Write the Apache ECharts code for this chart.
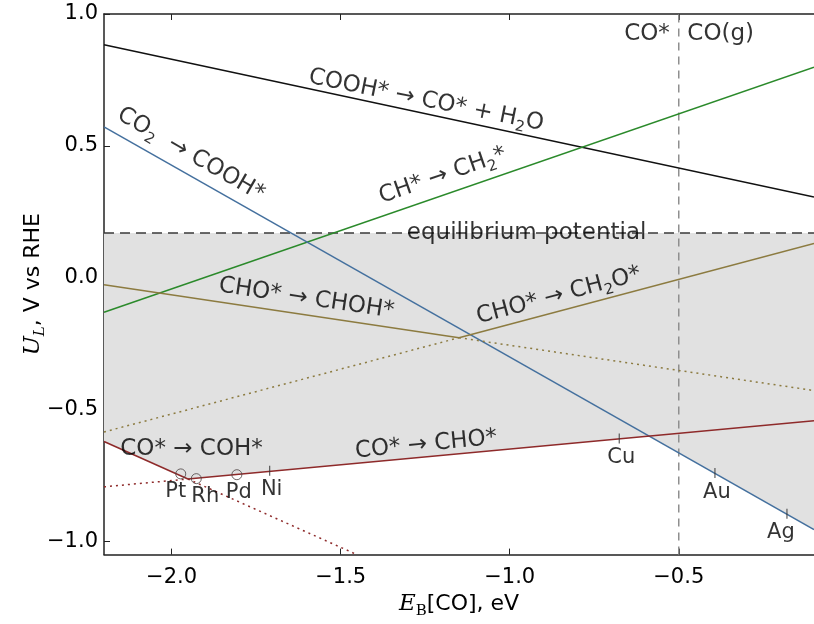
<!DOCTYPE html>
<html><head><meta charset="utf-8">
<script src="https://cdn.jsdelivr.net/npm/echarts@6/dist/echarts.min.js"></script>
<style>html,body{margin:0;padding:0;background:#fff}#c{width:814px;height:624px}</style>
</head><body><div id="c"></div>
<script>
// ---- data ----
const xEnds = [-2.2, -0.1];                 // x at which the straight lines are sampled
const yCoohToCo = [0.883, 0.306];           // COOH* -> CO* + H2O
const yChToCh2 = [-0.131, 0.798];           // CH* -> CH2*
const yCo2ToCooh = [0.572, -0.955];         // CO2 -> COOH*
const yChoToChoh = [-0.027, -0.428];        // CHO* -> CHOH*
const yChoToCh2o = [-0.585, 0.130];         // CHO* -> CH2O*
const yCoToCho = [-0.793, -0.542];          // CO* -> CHO*
const xCoToCoh = [-2.2, -1.452];            // CO* -> COH*
const yCoToCoh = [-0.621, -1.05];
const equilibriumU = 0.17;
const coDesorbX = -0.5;
const xTicks = [-2.0, -1.5, -1.0, -0.5];
const yTicks = [-1.0, -0.5, 0.0, 0.5, 1.0];
const metalNames = ['Pt', 'Rh', 'Pd', 'Ni', 'Cu', 'Au', 'Ag'];
const metalX = [-1.973, -1.927, -1.807, -1.710, -0.676, -0.393, -0.180];
const metalY = [-0.744, -0.762, -0.747, -0.732, -0.610, -0.741, -0.895];
const metalMark = ['circle', 'circle', 'circle', 'tick', 'tick', 'tick', 'tick'];

// ---- helpers ----
function cross(ax, ay, bx, by) {
  const ma = (ay[1] - ay[0]) / (ax[1] - ax[0]);
  const mb = (by[1] - by[0]) / (bx[1] - bx[0]);
  const ca = ay[0] - ma * ax[0], cb = by[0] - mb * bx[0];
  const x = (cb - ca) / (ma - mb);
  return [x, ma * x + ca];
}
const pChoCross = cross(xEnds, yChoToChoh, xEnds, yChoToCh2o);
const pCoKink = cross(xCoToCoh, yCoToCoh, xEnds, yCoToCho);
const pBlueRed = cross(xEnds, yCo2ToCooh, xEnds, yCoToCho);

const C = {black: '#111111', green: '#2b8a2b', blue: '#44709e', olive: '#8c7b40', red: '#8e2a2a'};
function seg(pts, color, type, z) {
  return {type: 'line', data: pts, symbol: 'none', silent: true, animation: false, z: z || 3,
    lineStyle: {color: color, width: 1.5, type: type || 'solid', cap: 'butt'}};
}
const dots = [2, 4];

const fmt = v => (v < 0 ? '\u2212' : '') + Math.abs(v).toFixed(1);
const FS = 23;
const TXT = '#000';
const rich = {
  n: {fontSize: FS, fontFamily: 'DejaVu Sans', color: TXT, lineHeight: 30},
  s: {fontSize: 15, fontFamily: 'DejaVu Sans', color: TXT, lineHeight: 15, verticalAlign: 'bottom'}
};

const annotations = [
  {t: '{n|COOH* \u2192 CO* + H}{s|2}{n|O}', p: [-1.247, 0.672], r: -11.5},
  {t: '{n|CO}{s|2}{n|  \u2192 COOH*}', p: [-1.943, 0.467], r: -30},
  {t: '{n|CH* \u2192 CH}{s|2}{n|*}', p: [-1.198, 0.387], r: 19},
  {t: '{n|equilibrium potential}', p: [-0.950, 0.169], r: 0},
  {t: '{n|CHO* \u2192 CHOH*}', p: [-1.601, -0.079], r: -8.5},
  {t: '{n|CHO* \u2192 CH}{s|2}{n|O*}', p: [-0.855, -0.068], r: 15},
  {t: '{n|CO* \u2192 COH*}', p: [-1.941, -0.648], r: 0},
  {t: '{n|CO* \u2192 CHO*}', p: [-1.247, -0.633], r: 5.5},
  {t: '{n|CO*}', p: [-0.594, 0.923], r: 0},
  {t: '{n|CO(g)}', p: [-0.376, 0.923], r: 0}
];
const metalOffsets = [[-5, 18], [9, 18], [2, 18], [2, 19], [2, 19], [2, 19], [-6, 19]];

const chart = echarts.init(document.getElementById('c'), null, {renderer: 'canvas'});
const axisColor = '#222';
chart.setOption({
  animation: false,
  grid: {left: 104, top: 14, right: -7, bottom: 55, containLabel: false},
  xAxis: [{
    type: 'value', min: xEnds[0], max: xEnds[1], position: 'bottom',
    axisLine: {show: true, onZero: false, lineStyle: {color: axisColor, width: 1.5}},
    axisTick: {show: true, inside: true, length: 6, customValues: xTicks, lineStyle: {color: axisColor, width: 1}},
    axisLabel: {customValues: xTicks, formatter: fmt, fontSize: 21, fontFamily: 'DejaVu Sans', color: TXT, margin: 12},
    splitLine: {show: false},
    name: '{mi|E}{ms|B}{n|[CO], eV}', nameLocation: 'middle', nameGap: 20,
    nameTextStyle: {rich: {
      mi: {fontSize: 23, fontFamily: 'DejaVu Serif', fontStyle: 'italic', color: TXT, lineHeight: 30},
      ms: {fontSize: 15, fontFamily: 'DejaVu Serif', color: TXT, lineHeight: 15, verticalAlign: 'bottom'},
      n: {fontSize: 22, fontFamily: 'DejaVu Sans', color: TXT, lineHeight: 30}
    }}
  }, {
    type: 'value', min: xEnds[0], max: xEnds[1], position: 'top',
    axisLine: {show: true, onZero: false, lineStyle: {color: axisColor, width: 1.5}},
    axisTick: {show: true, inside: true, length: 6, customValues: xTicks, lineStyle: {color: axisColor, width: 1}},
    axisLabel: {show: false}, splitLine: {show: false}
  }],
  yAxis: [{
    type: 'value', min: -1.05, max: 1.0,
    axisLine: {show: true, onZero: false, lineStyle: {color: axisColor, width: 1.5}},
    axisTick: {show: true, inside: true, length: 6, customValues: yTicks, lineStyle: {color: axisColor, width: 1}},
    axisLabel: {customValues: yTicks, formatter: fmt, fontSize: 21, fontFamily: 'DejaVu Sans', color: TXT, margin: 6},
    splitLine: {show: false},
    name: '{mi|U}{ms|L}{n|, V vs RHE}', nameLocation: 'middle', nameGap: 56, nameRotate: 90,
    nameMoveOverlap: false,
    nameTextStyle: {rich: {
      mi: {fontSize: 23, fontFamily: 'DejaVu Serif', fontStyle: 'italic', color: TXT, lineHeight: 30},
      ms: {fontSize: 15, fontFamily: 'DejaVu Serif', fontStyle: 'italic', color: TXT, lineHeight: 15, verticalAlign: 'bottom'},
      n: {fontSize: 22, fontFamily: 'DejaVu Sans', color: TXT, lineHeight: 30}
    }}
  }],
  series: [
    {
      type: 'custom', data: [[xEnds[0], equilibriumU]], z: 1, silent: true, clip: true,
      renderItem: function (params, api) {
        const pts = [
          [xEnds[0], equilibriumU], [xEnds[1], equilibriumU],
          [xEnds[1], yCo2ToCooh[1]], pBlueRed, pCoKink, [xEnds[0], yCoToCoh[0]]
        ].map(p => api.coord(p));
        return {type: 'polygon', shape: {points: pts}, style: {fill: '#e1e1e1', stroke: null}};
      }
    },
    seg([[coDesorbX, -1.05], [coDesorbX, 1.0]], '#8f8f8f', [8, 6], 2),
    seg([[xEnds[0], equilibriumU], [xEnds[1], equilibriumU]], '#3a3a3a', [10, 6], 2),
    seg([[xEnds[0], yCoohToCo[0]], [xEnds[1], yCoohToCo[1]]], C.black),
    seg([[xEnds[0], yChToCh2[0]], [xEnds[1], yChToCh2[1]]], C.green),
    seg([[xEnds[0], yCo2ToCooh[0]], [xEnds[1], yCo2ToCooh[1]]], C.blue),
    seg([[xEnds[0], yChoToChoh[0]], pChoCross], C.olive),
    seg([pChoCross, [xEnds[1], yChoToChoh[1]]], C.olive, dots),
    seg([[xEnds[0], yChoToCh2o[0]], pChoCross], C.olive, dots),
    seg([pChoCross, [xEnds[1], yChoToCh2o[1]]], C.olive),
    seg([[xCoToCoh[0], yCoToCoh[0]], pCoKink], C.red),
    seg([pCoKink, [xCoToCoh[1], yCoToCoh[1]]], C.red, dots),
    seg([[xEnds[0], yCoToCho[0]], pCoKink], C.red, dots),
    seg([pCoKink, [xEnds[1], yCoToCho[1]]], C.red),
    {
      type: 'scatter', z: 5, silent: true, animation: false,
      data: metalNames.map((n, i) => ({
        value: [metalX[i], metalY[i]],
        symbol: metalMark[i] === 'circle' ? 'circle' : 'rect',
        symbolSize: metalMark[i] === 'circle' ? 10 : [1.2, 10],
        itemStyle: metalMark[i] === 'circle'
          ? {color: 'rgba(0,0,0,0)', borderColor: '#4a4040', borderWidth: 1}
          : {color: '#333'},
        label: {show: true, formatter: n, position: 'inside', offset: metalOffsets[i],
          fontSize: 21, fontFamily: 'DejaVu Sans', color: TXT}
      }))
    },
    {
      type: 'scatter', z: 6, silent: true, animation: false, symbolSize: 0,
      data: annotations.map(a => ({
        value: a.p,
        label: {show: true, position: 'inside', formatter: a.t, rotate: a.r, rich: rich}
      }))
    }
  ]
});
</script>
</body></html>
